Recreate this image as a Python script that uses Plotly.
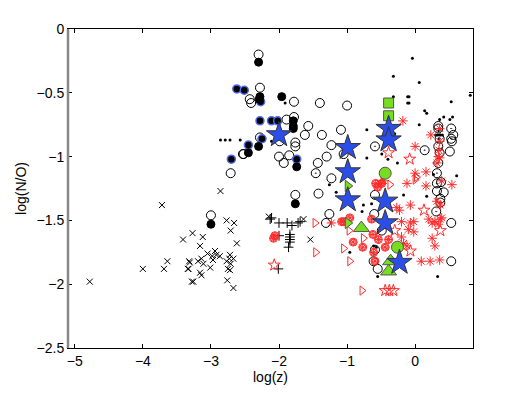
import plotly.graph_objects as go

# --- data (log z, log N/O) ---
cross_x = [-4.78, -3.72, -4.00, -3.69, -3.64, -3.41, -3.27, -3.12, -3.16, -3.32, -3.34, -3.28,
           -3.26, -3.31, -3.33, -3.14, -3.19, -3.11, -3.01, -3.14, -3.16, -2.94, -2.92, -2.87,
           -2.97, -2.86, -2.77, -2.66, -2.71, -2.62, -2.72, -2.67, -2.77, -2.71, -2.75, -2.72,
           -2.76, -2.67, -2.73, -2.15, -1.64, -1.54, -3.05, -2.98]
cross_y = [-1.98, -1.38, -1.88, -1.88, -1.82, -1.65, -1.60, -1.63, -1.70, -1.82, -1.88, -1.98,
           -1.98, -1.83, -1.88, -1.80, -1.82, -1.84, -1.87, -1.93, -1.91, -1.74, -1.77, -1.78,
           -1.81, -1.27, -1.50, -1.52, -1.58, -1.68, -1.77, -1.80, -1.82, -1.84, -1.88, -1.89,
           -1.97, -2.03, -1.80, -1.47, -1.49, -1.65, -1.76, -1.78]

plus_x = [-2.13, -2.11, -2.00, -1.88, -1.81, -1.84, -1.84, -1.84, -1.84, -1.86, -1.72, -1.69, -2.00, -2.01]
plus_y = [-1.49, -1.48, -1.52, -1.52, -1.54, -1.61, -1.63, -1.65, -1.67, -1.71, -1.52, -1.51, -1.62, -1.88]

filled_x = [-2.30, -2.29, -2.28, -1.96, -1.79, -1.79, -1.79, -2.30, -2.45, -1.74, -3.00, -1.76]
filled_y = [-0.26, -0.55, -0.53, -0.53, -0.72, -0.76, -0.78, -0.92, -0.97, -1.08, -1.53, -1.37]

blue_edge_x = [-2.62, -2.51, -2.28, -2.11, -2.02, -2.25, -2.45, -2.70, -1.74, -2.27]
blue_edge_y = [-0.47, -0.48, -0.72, -0.72, -0.72, -0.86, -0.91, -1.02, -1.02, -0.57]

open_x = [-2.30, -2.28, -2.43, -2.41, -1.78, -1.40, -1.00, -1.89, -1.78, -1.57, -1.62, -1.76,
          -1.76, -1.99, -2.28, -2.52, -2.00, -1.85, -2.71, -2.53, -1.09, -1.37, -1.23, -1.93,
          -1.30, -1.43, -1.23, -1.05, 0.51, 0.56, 0.54, -1.42, -1.26, -1.31, -0.59, -0.60,
          -0.49, -0.55, -0.61, -0.59, 0.53, 0.53, 0.32, 0.42, -3.00, -1.76, 0.34, 0.34, 0.36,
          0.38, 0.37]
open_y = [-0.20, -0.46, -0.55, -0.58, -0.57, -0.58, -0.60, -0.71, -0.69, -0.76, -0.83, -0.89,
          -0.92, -0.88, -0.85, -0.98, -1.00, -0.99, -1.13, -0.98, -0.79, -0.83, -0.91, -1.05,
          -1.00, -1.05, -1.17, -0.98, -0.96, -0.83, -0.88, -1.29, -1.45, -1.52, -1.30, -1.45,
          -1.58, -1.88, -1.82, -1.73, -1.52, -1.82, -1.27, -1.28, -1.46, -1.30, -0.76, -0.92,
          -0.97, -1.20, -1.33]

dotc_x = [-0.59, 0.14, 0.53, 0.53, -1.46, 0.32, 0.32, 0.37, 0.31, 0.34, 0.36, 0.34]
dotc_y = [-0.92, -0.95, -0.78, -0.86, -1.13, -1.13, -1.21, -1.36, -1.43, -0.78, -0.86, -1.05]

dot_x = [-2.86, -2.79, -2.72, -2.57, -1.91, -2.11, -0.04, -0.32, 0.06, -0.32, -0.11, -0.11,
         -0.09, -0.09, 0.53, 0.14, 0.17, 0.06, 0.36, 0.42, 0.55, 0.51, -0.71, -0.49, -0.71,
         0.81, -0.26, -1.16, -0.76, -0.78, -0.17, 0.17, 0.27, 0.61, -0.64, -0.96, -0.55, 0.33,
         -1.26, -0.61, -0.57, -0.40, -0.30, -0.45, 0.30, 0.33, 0.37, 0.40, 0.35, 0.35]
dot_y = [-0.87, -0.87, -0.87, -0.87, -0.58, -0.88, -0.23, -0.37, -0.42, -0.53, -0.53, -0.58,
         -0.53, -0.58, -0.57, -0.64, -0.66, -0.75, -0.71, -0.69, -0.69, -0.71, -0.79, -0.98, -1.01,
         -0.52, -1.05, -1.28, -1.38, -1.43, -1.30, -1.31, -1.14, -1.15, -1.37, -1.75, -1.94, -1.94,
         -1.22, -1.70, -1.71, -1.02, -0.82, -0.85, -0.83, -0.83, -0.83, -0.83, -0.80, -0.86]

ast_x = [-0.18, 0.23, 0.00, 0.36, 0.36, 0.00, 0.16, 0.32, 0.34, -0.12, 0.16, 0.39, 0.54, 0.32,
         0.37, -0.27, -0.23, -0.07, -0.02, -0.07, -0.10, -0.20, 0.20, 0.25, 0.29, 0.37, 0.34,
         0.39, 0.25, 0.29, 0.09, 0.22, 0.36, -1.23, -0.20, -0.17, -0.12, -0.02, -0.51, -0.46,
         0.36, 0.35]
ast_y = [-0.72, -0.83, -0.92, -0.78, -1.01, -1.13, -1.12, -1.05, -1.00, -1.21, -1.23, -1.19,
         -1.22, -1.35, -1.38, -1.40, -1.42, -1.38, -1.51, -1.52, -1.57, -1.51, -1.49, -1.52,
         -1.51, -1.49, -1.53, -1.48, -1.64, -1.70, -1.82, -1.82, -1.81, -1.52, -1.63, -1.68,
         -1.70, -1.59, -1.21, -1.19, -0.88, -0.95]

hcirc_x = [-0.58, -0.49, -1.05, -0.91, -0.77, -0.62, -0.54, -0.39, -0.44, -0.64, -0.61, -0.59,
           -0.96, -2.08, -2.06, -1.08, -0.55]
hcirc_y = [-1.21, -1.21, -1.51, -1.67, -1.71, -1.61, -1.65, -1.65, -1.71, -1.49, -1.75, -1.82,
           -1.48, -1.64, -1.62, -1.51, -1.24]

rtri_x = [-1.47, -1.46, -1.05, -0.97, -0.76, -0.78, -0.37, 0.00, -0.96, 0.02]
rtri_y = [-1.52, -1.75, -1.72, -1.58, -1.64, -2.05, -1.22, -1.18, -1.82, -1.16]

rstar_x = [-0.39, -0.08, 0.13, -0.30, 0.37, -0.44, -0.38, -0.32, -0.07, -2.07, -1.00]
rstar_y = [-0.97, -1.02, -1.42, -1.58, -1.58, -2.05, -2.05, -2.05, -1.74, -1.85, -0.95]

gsq_x = [-0.39, -0.39]
gsq_y = [-0.58, -0.68]
gcirc_x = [-0.44, -0.26]
gcirc_y = [-1.13, -1.71]
gtup_x = [-0.79, -0.36, -0.39]
gtup_y = [-1.56, -1.82, -1.90]
gtr_x = [-0.99, -0.99]
gtr_y = [-1.23, -1.52]

bstar_x = [-2.00, -0.99, -0.99, -0.99, -0.39, -0.39, -0.44, -0.44, -0.23]
bstar_y = [-0.83, -0.93, -1.12, -1.34, -0.78, -0.87, -1.35, -1.52, -1.83]

x_ticks = [-5, -4, -3, -2, -1, 0]
y_ticks = [0, -0.5, -1, -1.5, -2, -2.5]

RED = '#ff2a2a'
GREEN = '#77dd1e'
BLUE = '#2b4ee8'

fig = go.Figure()


def add(xs, ys, symbol, size, color, lw=1, lcolor=None):
    fig.add_trace(go.Scatter(
        x=xs, y=ys, mode='markers', showlegend=False, hoverinfo='skip', cliponaxis=False,
        marker=dict(symbol=symbol, size=size, color=color,
                    line=dict(width=lw, color=lcolor if lcolor else color))))


add(cross_x, cross_y, 'x-thin-open', 6, 'black', 1)
add(plus_x, plus_y, 'cross-thin-open', 7, 'black', 1)
add(open_x, open_y, 'circle-open', 9, 'black', 1)
add(dotc_x, dotc_y, 'circle-open-dot', 9, 'black', 1)
add(blue_edge_x, blue_edge_y, 'circle', 8, 'black', 1.5, '#4a6cf0')
add(filled_x, filled_y, 'circle', 8, 'black', 1, 'black')
add(dot_x, dot_y, 'circle', 3, 'black', 0)
add(hcirc_x, hcirc_y, 'circle-cross-open', 8, RED, 1)
add(hcirc_x, hcirc_y, 'circle-x-open', 6, RED, 1)
add(rtri_x, rtri_y, 'triangle-right-open', 8, RED, 1)
add(rstar_x, rstar_y, 'star-open', 9, RED, 1)
add(ast_x, ast_y, 'asterisk-open', 8, RED, 1)
add(gsq_x, gsq_y, 'square', 10, GREEN, 1, '#555555')
add(gcirc_x, gcirc_y, 'circle', 12, GREEN, 1, '#555555')
add(gtup_x, gtup_y, 'triangle-up', 14, GREEN, 1, '#555555')
add(gtr_x, gtr_y, 'triangle-right', 10, GREEN, 1, '#555555')
add(bstar_x, bstar_y, 'star', 19, BLUE, 1, '#333333')

axis_font = dict(family='Liberation Sans, Arial, sans-serif', size=14, color='black')
fig.update_xaxes(range=[-5.1, 0.85], tickvals=x_ticks, ticks='inside', ticklen=4,
                 tickcolor='black', showline=True, linecolor='black', linewidth=1,
                 mirror='ticks', showgrid=False, zeroline=False, tickfont=axis_font,
                 automargin=False, title=dict(text='log(z)', font=axis_font, standoff=2))
fig.update_yaxes(range=[-2.5, 0], tickvals=y_ticks, ticks='inside', ticklen=4,
                 tickcolor='black', showline=True, linecolor='black', linewidth=1,
                 mirror='ticks', showgrid=False, zeroline=False, tickfont=axis_font,
                 automargin=False, title=dict(text='log(N/O)', font=axis_font, standoff=6))
# thick grey left spine as in the reference
fig.add_shape(type='line', xref='paper', yref='paper', x0=0, x1=0, y0=0, y1=1,
              line=dict(color='#888888', width=2.5))
# page body has an 8px margin, so the figure is shrunk by 8px and margins shifted
fig.update_layout(width=515, height=386, paper_bgcolor='white', plot_bgcolor='white',
                  margin=dict(l=60, r=50, t=21, b=46))

fig.write_html("out.html")
